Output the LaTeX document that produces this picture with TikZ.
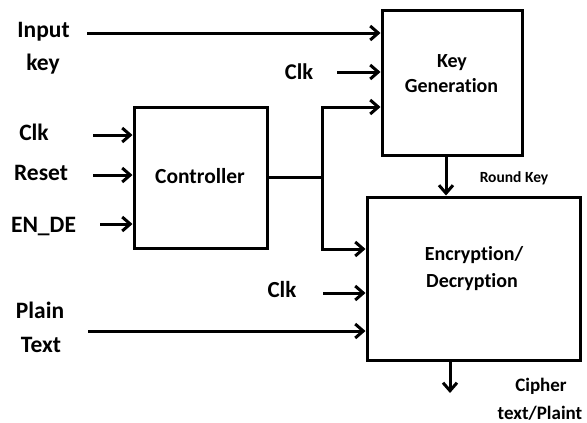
\documentclass[tikz,border=0pt]{standalone}
\usepackage{fontspec}
\setmainfont{Carlito}[Ligatures=NoCommon]
\usetikzlibrary{arrows.meta}
\begin{document}
\begin{tikzpicture}[x=1pt,y=-1pt,
  wire/.style={line width=3pt},
  arr/.style={wire,-{Straight Barb[length=8pt,width=14pt]}},
  blockbox/.style={draw,line width=3pt,inner sep=0pt},
  txt/.style={font=\bfseries\fontsize{21}{25}\selectfont,inner sep=0pt,anchor=base},
  sidetxt/.style={txt,font=\bfseries\fontsize{23.5}{28}\selectfont},
  blocktxt/.style={txt,font=\bfseries\fontsize{20}{24}\selectfont},
  outtxt/.style={txt,font=\bfseries\fontsize{19}{23}\selectfont},
  smalltxt/.style={txt,font=\bfseries\fontsize{15.5}{18}\selectfont}]
\fill[white] (0,0) rectangle (587,423);
\useasboundingbox (0,0) rectangle (587,423);
% blocks
\node[blockbox,minimum width=133pt,minimum height=141pt] (ctrl) at (200.5,177.5) {};
\node[blockbox,minimum width=140pt,minimum height=145pt] (kg) at (452,82.5) {};
\node[blockbox,minimum width=213pt,minimum height=163pt] (ed) at (473.5,278.5) {};
% texts
\node[txt,font=\bfseries\fontsize{21.5}{25}\selectfont] (ctrlt) at (200,183) {Controller};
\node[blocktxt] (kgt1) at (452,67) {Key};
\node[blocktxt] (kgt2) at (451.5,92) {Generation};
\node[blocktxt] (edt1) at (474,260) {Encryption/};
\node[blocktxt] (edt2) at (472,287) {Decryption};
\node[sidetxt] (in1) at (43.5,37) {Input};
\node[sidetxt] (in2) at (43,70) {key};
\node[sidetxt] (clka) at (34,140) {Clk};
\node[sidetxt] (rst) at (41,180) {Reset};
\node[sidetxt] (ende) at (43.5,232) {EN\_DE};
\node[sidetxt] (pl1) at (40,318) {Plain};
\node[sidetxt] (pl2) at (41,352) {Text};
\node[txt,font=\bfseries\fontsize{22.5}{26}\selectfont] (clkb) at (299,79) {Clk};
\node[txt,font=\bfseries\fontsize{23}{26}\selectfont] (clkc) at (282,297) {Clk};
\node[smalltxt] (rk) at (514,182) {Round Key};
\node[outtxt] (ct1) at (541,391) {Cipher};
\node[outtxt] (ct2) at (540,419) {text/Plaint};
% connectors
\coordinate (ikS) at (87,33);
\draw[arr] (ikS) -- (ikS -| kg.west);
\coordinate (c1S) at (337,72);
\draw[arr] (c1S) -- (c1S -| kg.west);
\coordinate (jn) at (322,177.5);
\coordinate (jt) at (322,107);
\coordinate (jb) at (322,249);
\draw[wire] (ctrl.east) -- (jn);
\draw[arr] (jn) -- (jt) -- (jt -| kg.west);
\draw[arr] (jn) -- (jb) -- (jb -| ed.west);
\coordinate (c2S) at (323,293);
\draw[arr] (c2S) -- (c2S -| ed.west);
\coordinate (ptS) at (88,331);
\draw[arr] (ptS) -- (ptS -| ed.west);
\coordinate (caS) at (93,135);
\draw[arr] (caS) -- (caS -| ctrl.west);
\coordinate (rsS) at (93,175);
\draw[arr] (rsS) -- (rsS -| ctrl.west);
\coordinate (enS) at (100,224);
\draw[arr] (enS) -- (enS -| ctrl.west);
\coordinate (rkx) at (446,0);
\draw[arr] (kg.south -| rkx) -- (ed.north -| rkx);
\coordinate (outE) at (450,393);
\draw[arr] (ed.south -| outE) -- (outE);
\end{tikzpicture}
\end{document}
